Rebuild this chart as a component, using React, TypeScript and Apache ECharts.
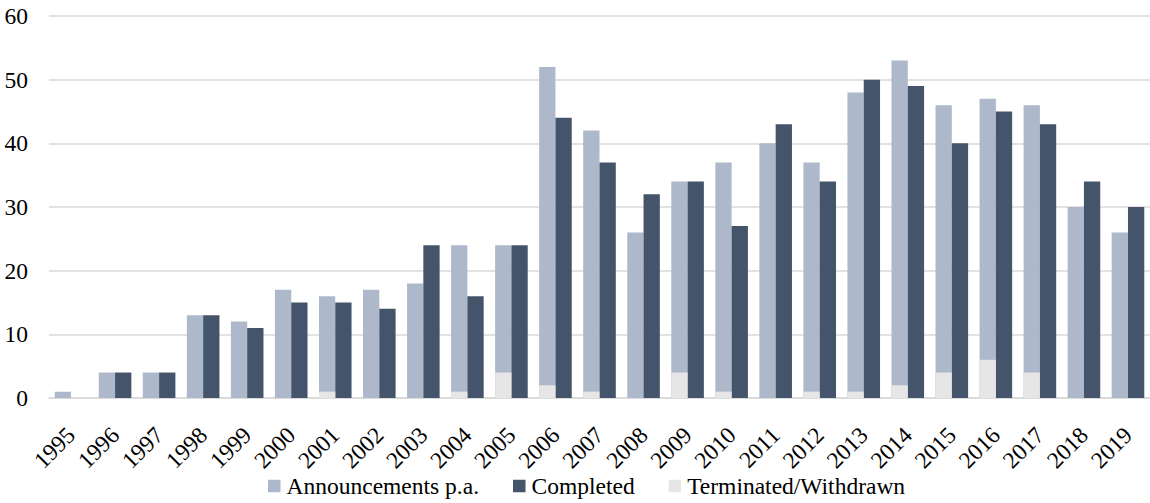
import React, { useEffect, useRef } from "react";
import * as echarts from "echarts";

const years = [
  "1995", "1996", "1997", "1998", "1999", "2000", "2001", "2002", "2003", "2004",
  "2005", "2006", "2007", "2008", "2009", "2010", "2011", "2012", "2013", "2014",
  "2015", "2016", "2017", "2018", "2019",
];
const announcements = [1, 4, 4, 13, 12, 17, 16, 17, 18, 24, 24, 52, 42, 26, 34, 37, 40, 37, 48, 53, 46, 47, 46, 30, 26];
const completed = [0, 4, 4, 13, 11, 15, 15, 14, 24, 16, 24, 44, 37, 32, 34, 27, 43, 34, 50, 49, 40, 45, 43, 34, 30];
const terminated = [0, 0, 0, 0, 0, 0, 1, 0, 0, 1, 4, 2, 1, 0, 4, 1, 0, 1, 1, 2, 4, 6, 4, 0, 0];

const FONT = "Liberation Serif";
const FONT_SIZE = 23.5;
const GRID = "#D9D9D9";

export default function App() {
  const ref = useRef<HTMLDivElement>(null);

  useEffect(() => {
    if (!ref.current) return;
    const chart = echarts.init(ref.current, null, { renderer: "svg" });
    const barLayout = { barGap: "0%", barCategoryGap: "26%" };
    chart.setOption({
      animation: false,
      textStyle: { fontFamily: FONT },
      grid: { left: 49, right: 0, top: 16, bottom: 105, containLabel: false },
      legend: {
        data: ["Announcements p.a.", "Completed", "Terminated/Withdrawn"],
        top: 474,
        left: 268,
        icon: "rect",
        itemWidth: 12.5,
        itemHeight: 12.5,
        itemGap: 34,
        padding: 0,
        textStyle: { fontFamily: FONT, fontSize: FONT_SIZE, color: "#000", padding: [0, 0, 0, 1] },
      },
      xAxis: [
        {
          type: "category",
          data: years,
          axisTick: { show: false },
          axisLine: { lineStyle: { color: GRID, width: 1.5 } },
          axisLabel: { rotate: 45, margin: 33, fontSize: FONT_SIZE, color: "#000", fontFamily: FONT, interval: 0 },
        },
        {
          type: "category",
          data: years,
          show: false,
        },
      ],
      yAxis: {
        type: "value",
        min: 0,
        max: 60,
        interval: 10,
        axisLine: { show: false },
        axisTick: { show: false },
        axisLabel: { fontSize: FONT_SIZE, color: "#000", fontFamily: FONT, margin: 21 },
        splitLine: { lineStyle: { color: GRID, width: 1.5 } },
      },
      series: [
        {
          name: "Announcements p.a.",
          type: "bar",
          xAxisIndex: 0,
          data: announcements,
          itemStyle: { color: "#ADB9CA" },
          ...barLayout,
        },
        {
          name: "Completed",
          type: "bar",
          xAxisIndex: 0,
          data: completed,
          itemStyle: { color: "#44546A" },
          ...barLayout,
        },
        {
          name: "Terminated/Withdrawn",
          type: "bar",
          xAxisIndex: 1,
          data: terminated,
          itemStyle: { color: "#E7E6E6" },
          ...barLayout,
        },
        {
          // empty slot keeps the overlay bars aligned with the announcements column
          name: "",
          type: "bar",
          xAxisIndex: 1,
          data: [],
          ...barLayout,
        },
      ],
    });
    return () => chart.dispose();
  }, []);

  return (
    <div
      ref={ref}
      style={{ position: "fixed", left: 0, top: 0, width: 1150, height: 503, background: "#fff" }}
    />
  );
}
